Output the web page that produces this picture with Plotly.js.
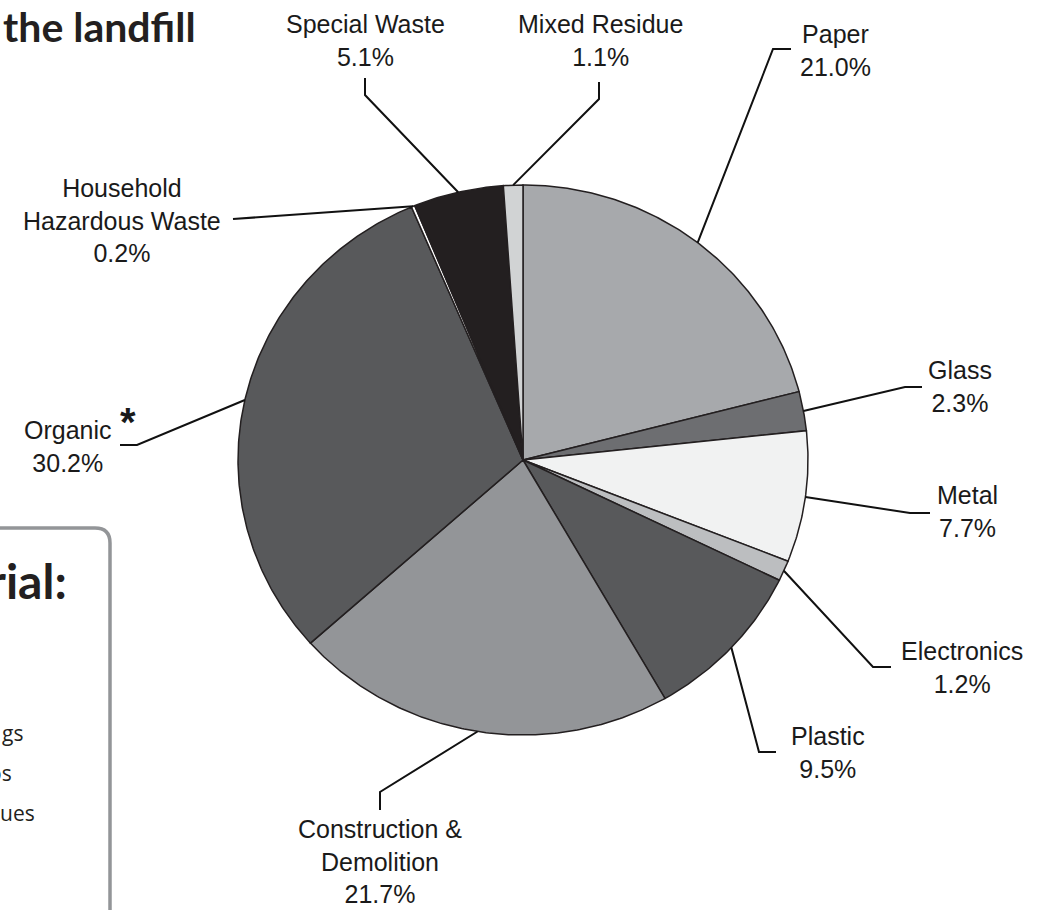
<!DOCTYPE html>
<html>
<head>
<meta charset="utf-8">
<script src="https://cdn.plot.ly/plotly-3.0.1.min.js"></script>
<style>html,body{margin:0;padding:0;background:#fff;}#chart{width:1047px;height:910px;}</style>
</head>
<body>
<div id="chart"></div>
<script>
// ---- data ----
const categories = ['Paper','Glass','Metal','Electronics','Plastic','Construction & Demolition','Organic','Household Hazardous Waste','Special Waste','Mixed Residue'];
const values = [21.0, 2.3, 7.7, 1.2, 9.5, 21.7, 30.2, 0.2, 5.1, 1.1];
const labelText = ['Paper','Glass','Metal','Electronics','Plastic','Construction &<br>Demolition','Organic','Household<br>Hazardous Waste','Special Waste','Mixed Residue'];

// ---- styles ----
const sliceColors = ['#a7a9ac','#6d6e71','#f1f2f2','#bcbec0','#58595b','#939598','#58595b','#ffffff','#231f20','#d1d3d4'];

// ---- layout geometry (pixels) ----
const W = 1047, H = 910;
const CX = 523, CY = 460, RX = 285, RY = 275;
const toX = px => (px - CX) / RX;
const toY = py => (CY - py) / RY;
// label placement: elbow, end of leader, label anchor
const labelPos = [
  {elbow:[773,49], end:[791,49], text:[835,50], anchor:'middle'},
  {elbow:[905,387], end:[922,387], text:[960,386], anchor:'middle'},
  {elbow:[910,513], end:[930,513], text:[967,511], anchor:'middle'},
  {elbow:[873,667], end:[891,667], text:[962,667], anchor:'middle'},
  {elbow:[759,752], end:[776,752], text:[828,752], anchor:'middle'},
  {elbow:[380,792], end:[380,810], text:[380,813], anchor:'top'},
  {elbow:[137,445], end:[120,445], text:[68,446], anchor:'middle'},
  {elbow:null, end:[233,219], text:[122,220], anchor:'middle'},
  {elbow:[365,95], end:[365,78], text:[365,40], anchor:'middle'},
  {elbow:[599,99], end:[599,82], text:[600,40], anchor:'middle'}
];

const total = values.reduce((a,b)=>a+b,0);
const traces = [];
let cum = 0;
const mids = [];
values.forEach((v,i)=>{
  const a0 = cum/total*2*Math.PI;
  cum += v;
  const a1 = cum/total*2*Math.PI;
  mids.push((a0+a1)/2);
  const n = Math.max(2, Math.ceil((a1-a0)/(Math.PI/360)));
  const xs=[0], ys=[0];
  for(let k=0;k<=n;k++){
    const a = a0 + (a1-a0)*k/n;
    xs.push(Math.sin(a)); ys.push(Math.cos(a));
  }
  xs.push(0); ys.push(0);
  traces.push({type:'scatter', mode:'lines', x:xs, y:ys, fill:'toself', fillcolor:sliceColors[i],
    line:{color:'#231f20', width:1.5}, hoverinfo:'text', text:categories[i]+' '+v.toFixed(1)+'%', showlegend:false});
});

// leader lines
values.forEach((v,i)=>{
  const m = mids[i], p = labelPos[i];
  const xs=[Math.sin(m)], ys=[Math.cos(m)];
  if(p.elbow){ xs.push(toX(p.elbow[0])); ys.push(toY(p.elbow[1])); }
  xs.push(toX(p.end[0])); ys.push(toY(p.end[1]));
  traces.push({type:'scatter', mode:'lines', x:xs, y:ys, line:{color:'#111', width:2}, hoverinfo:'skip', showlegend:false});
});

const labelFont = {family:'Liberation Sans, Arial, sans-serif', size:25, color:'#1a1a1a'};
const annotations = values.map((v,i)=>({
  xref:'x', yref:'y', x:toX(labelPos[i].text[0]), y:toY(labelPos[i].text[1]),
  xanchor:'center', yanchor:labelPos[i].anchor, showarrow:false, align:'center',
  text: labelText[i] + '<br>' + v.toFixed(1) + '%', font: labelFont
}));
// asterisk on Organic
annotations.push({xref:'paper', yref:'paper', x:128/W, y:1-422/H, xanchor:'center', yanchor:'middle', showarrow:false,
  text:'*', font:{family:'Liberation Sans, Arial, sans-serif', size:40, color:'#1a1a1a', weight:'bold'}});
// fragments of the surrounding infographic
annotations.push({xref:'paper', yref:'paper', x:198/W, y:1-26/H, xanchor:'right', yanchor:'middle', showarrow:false,
  text:'the landfill', font:{family:'Lato, Open Sans, sans-serif', size:41, color:'#231f20', weight:'bold'}});
annotations.push({xref:'paper', yref:'paper', x:69/W, y:1-580/H, xanchor:'right', yanchor:'middle', showarrow:false,
  text:'rial:', font:{family:'Lato, Open Sans, sans-serif', size:48, color:'#231f20', weight:'bold'}});
const smallFont = {family:'Open Sans, sans-serif', size:21, color:'#231f20'};
[['gs',25,733],['os',14,773],['ues',37,813]].forEach(t=>{
  annotations.push({xref:'paper', yref:'paper', x:t[1]/W, y:1-t[2]/H, xanchor:'right', yanchor:'middle', showarrow:false, text:t[0], font:smallFont});
});

const px = (x)=>x/W, py=(y)=>1-y/H;
const shapes = [{
  type:'path', xref:'paper', yref:'paper',
  path:`M ${px(-10)},${py(528)} L ${px(95)},${py(528)} Q ${px(110)},${py(528)} ${px(110)},${py(543)} L ${px(110)},${py(915)}`,
  line:{color:'#939598', width:3.5}
}];

const layout = {
  width:W, height:H, margin:{l:0,r:0,t:0,b:0},
  paper_bgcolor:'#ffffff', plot_bgcolor:'#ffffff',
  xaxis:{range:[toX(0), toX(W)], visible:false, fixedrange:true},
  yaxis:{range:[toY(H), toY(0)], visible:false, fixedrange:true},
  showlegend:false, annotations, shapes
};
Plotly.newPlot('chart', traces, layout, {displayModeBar:false, staticPlot:true});
</script>
</body>
</html>
